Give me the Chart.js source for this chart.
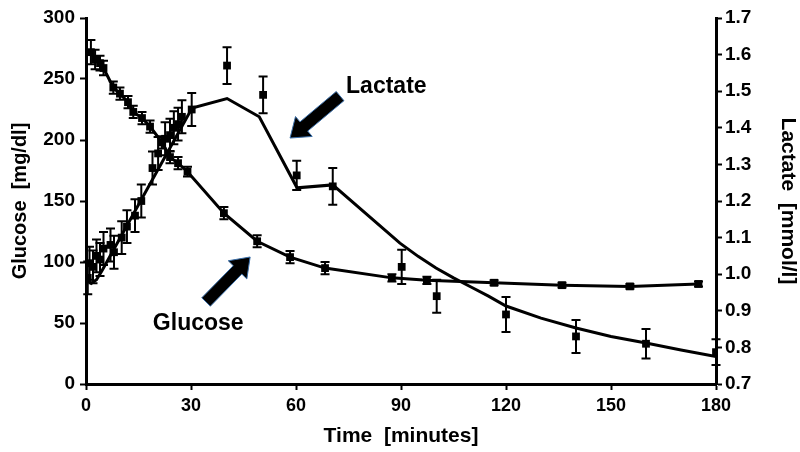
<!DOCTYPE html>
<html><head><meta charset="utf-8">
<script src="https://cdn.jsdelivr.net/npm/chart.js@4"></script>
<style>html,body{margin:0;padding:0;background:#fff}</style>
</head><body>
<canvas id="c" width="800" height="452"></canvas>
<script>
// ---- data ----
const timeTicks = [0, 30, 60, 90, 120, 150, 180];
const glucoseTicks = [0, 50, 100, 150, 200, 250, 300];
const lactateTicks = [0.7, 0.8, 0.9, 1.0, 1.1, 1.2, 1.3, 1.4, 1.5, 1.6, 1.7];

const glucoseTime   = [1.4, 2.6, 4, 5, 7.8, 9.7, 12, 13.5, 16, 18.3, 21.7, 24, 26.3, 29, 39.4, 48.9, 58.3, 68.3, 87.4, 97.4, 116.6, 136, 155.4, 175];
const glucoseValues = [272, 266, 263, 259, 243, 238, 231, 223, 218, 211, 198, 186, 181, 174, 140, 117, 104, 95, 87, 85, 83, 81, 80, 82];
const glucoseErr    = [10, 8, 6, 6, 5, 5, 5, 5, 5, 5, 5, 5, 5, 4, 5, 5, 5, 5, 3, 3, 2, 2, 2, 2];

const lactateTime   = [0.5, 1, 2, 3, 4, 5, 7, 8, 10.2, 11.7, 14, 15.8, 19, 20.6, 22.6, 24, 25.1, 26.3, 27.4, 30.2, 40.3, 50.6, 60.2, 70.5, 90.2, 100.2, 120, 140, 160, 180];
const lactateValues = [0.99, 1.03, 1.02, 1.05, 1.04, 1.07, 1.08, 1.06, 1.10, 1.13, 1.16, 1.20, 1.29, 1.33, 1.37, 1.38, 1.40, 1.41, 1.43, 1.45, 1.57, 1.49, 1.27, 1.24, 1.02, 0.94, 0.89, 0.83, 0.81, 0.787];
const lactateErr    = [0.045, 0.045, 0.045, 0.045, 0.045, 0.045, 0.045, 0.045, 0.045, 0.045, 0.045, 0.045, 0.045, 0.045, 0.045, 0.045, 0.045, 0.045, 0.045, 0.045, 0.05, 0.05, 0.04, 0.05, 0.047, 0.045, 0.048, 0.045, 0.04, 0.035];

const lactateFitTime   = [0, 1.5, 3, 4.6, 30.3, 40.3, 49.5, 60.3, 70.5, 89.7, 95, 100, 105, 110, 115, 120, 130, 140, 150, 160, 170, 180];
const lactateFitValues = [0.985, 0.975, 0.985, 1.01, 1.454, 1.48, 1.43, 1.236, 1.244, 1.085, 1.048, 1.017, 0.99, 0.965, 0.94, 0.913, 0.88, 0.853, 0.83, 0.812, 0.793, 0.775];

// ---- annotations (time, glucose-axis units) ----
const arrowSpecs = [
  { from: [72.6, 236], to: [58.3, 201.6] },
  { from: [34.3, 67.2], to: [46.9, 104.1] }
];
const labelSpecs = [
  { text: 'Lactate', at: [74.3, 238.5] },
  { text: 'Glucose', at: [19.1, 44.3] }
];

const FONT = "'Liberation Sans', Arial, sans-serif";
const toXY = (xs, ys) => xs.map((x, i) => ({ x, y: ys[i] }));

const errorBarPlugin = {
  id: 'errorBars',
  afterDatasetsDraw(chart) {
    const ctx = chart.ctx;
    chart.data.datasets.forEach((ds, di) => {
      if (!ds.errors) return;
      const meta = chart.getDatasetMeta(di);
      const ys = chart.scales[ds.yAxisID];
      ctx.save();
      ctx.strokeStyle = '#000';
      ctx.lineWidth = 2;
      meta.data.forEach((pt, i) => {
        const v = ds.data[i].y, e = ds.errors[i];
        const top = ys.getPixelForValue(v + e), bot = ys.getPixelForValue(v - e);
        const x = pt.x;
        ctx.beginPath();
        ctx.moveTo(x, top); ctx.lineTo(x, bot);
        ctx.moveTo(x - 4.5, top); ctx.lineTo(x + 4.5, top);
        ctx.moveTo(x - 4.5, bot); ctx.lineTo(x + 4.5, bot);
        ctx.stroke();
      });
      ctx.restore();
    });
  }
};

const annotationPlugin = {
  id: 'annot',
  afterDraw(chart) {
    const ctx = chart.ctx, xs = chart.scales.x, ys = chart.scales.yG;
    ctx.save();
    arrowSpecs.forEach(a => {
      const x1 = xs.getPixelForValue(a.from[0]), y1 = ys.getPixelForValue(a.from[1]);
      const x2 = xs.getPixelForValue(a.to[0]), y2 = ys.getPixelForValue(a.to[1]);
      const L = Math.hypot(x2 - x1, y2 - y1);
      const dx = (x2 - x1) / L, dy = (y2 - y1) / L;
      const nx = -dy, ny = dx;
      const sw = 6, hw = 13, hl = 18;
      const nxp = x2 - dx * hl, nyp = y2 - dy * hl;
      ctx.beginPath();
      ctx.moveTo(x1 + nx * sw, y1 + ny * sw);
      ctx.lineTo(nxp + nx * sw, nyp + ny * sw);
      ctx.lineTo(nxp + nx * hw, nyp + ny * hw);
      ctx.lineTo(x2, y2);
      ctx.lineTo(nxp - nx * hw, nyp - ny * hw);
      ctx.lineTo(nxp - nx * sw, nyp - ny * sw);
      ctx.lineTo(x1 - nx * sw, y1 - ny * sw);
      ctx.closePath();
      ctx.fillStyle = '#000';
      ctx.fill();
      ctx.strokeStyle = '#3a6ea8';
      ctx.lineWidth = 1;
      ctx.stroke();
    });
    ctx.fillStyle = '#000';
    ctx.font = 'bold 23px ' + FONT;
    ctx.textAlign = 'left';
    ctx.textBaseline = 'alphabetic';
    labelSpecs.forEach(l => {
      ctx.fillText(l.text, xs.getPixelForValue(l.at[0]), ys.getPixelForValue(l.at[1]));
    });
    ctx.restore();
  }
};

const axisCommon = {
  grid: { display: true, drawOnChartArea: false, drawTicks: true, tickLength: 6, tickWidth: 2, tickColor: '#000' },
  border: { display: true, color: '#000', width: 3 }
};

new Chart(document.getElementById('c'), {
  data: {
    datasets: [
      {
        type: 'line', label: 'Lactate fit', yAxisID: 'yL',
        data: toXY(lactateFitTime, lactateFitValues),
        borderColor: '#000', borderWidth: 3, pointRadius: 0, tension: 0, fill: false
      },
      {
        type: 'line', label: 'Glucose', yAxisID: 'yG',
        data: toXY(glucoseTime, glucoseValues), errors: glucoseErr,
        borderColor: '#000', borderWidth: 3, tension: 0, fill: false,
        pointStyle: 'rect', pointRadius: 5.5, pointBackgroundColor: '#000', pointBorderColor: '#000', pointBorderWidth: 0
      },
      {
        type: 'scatter', label: 'Lactate', yAxisID: 'yL',
        data: toXY(lactateTime, lactateValues), errors: lactateErr,
        showLine: false,
        pointStyle: 'rect', pointRadius: 5.5, pointBackgroundColor: '#000', pointBorderColor: '#000', pointBorderWidth: 0
      }
    ]
  },
  options: {
    responsive: false,
    animation: false,
    devicePixelRatio: 1,
    layout: { padding: { top: 18, left: 0, right: 0, bottom: 0 } },
    plugins: { legend: { display: false }, tooltip: { enabled: false } },
    scales: {
      x: {
        type: 'linear', position: 'bottom', min: 0, max: 180,
        afterBuildTicks: s => { s.ticks = timeTicks.map(v => ({ value: v })); },
        afterFit: s => { s.height = 68; },
        ticks: { color: '#000', font: { family: FONT, size: 18, weight: 'bold' }, padding: 5 },
        title: { display: true, text: 'Time  [minutes]', color: '#000', font: { family: FONT, size: 21, weight: 'bold' }, padding: { top: 0, bottom: 3 } },
        ...axisCommon
      },
      yG: {
        type: 'linear', position: 'left', min: 0, max: 300,
        afterBuildTicks: s => { s.ticks = glucoseTicks.map(v => ({ value: v })); },
        afterFit: s => { s.width = 86; },
        ticks: { color: '#000', font: { family: FONT, size: 19, weight: 'bold' }, padding: 5 },
        title: { display: true, text: 'Glucose  [mg/dl]', color: '#000', font: { family: FONT, size: 20, weight: 'bold' }, padding: { top: 8, bottom: 0 } },
        ...axisCommon
      },
      yL: {
        type: 'linear', position: 'right', min: 0.7, max: 1.7,
        afterBuildTicks: s => { s.ticks = lactateTicks.map(v => ({ value: v })); },
        afterFit: s => { s.width = 84; },
        ticks: { color: '#000', font: { family: FONT, size: 19, weight: 'bold' }, padding: 3, callback: v => Number(v).toFixed(1) },
        title: { display: true, text: 'Lactate  [mmol/l]', color: '#000', font: { family: FONT, size: 21, weight: 'bold' }, padding: { top: 0, bottom: 0 } },
        ...axisCommon
      }
    }
  },
  plugins: [errorBarPlugin, annotationPlugin]
});
</script>
</body></html>
